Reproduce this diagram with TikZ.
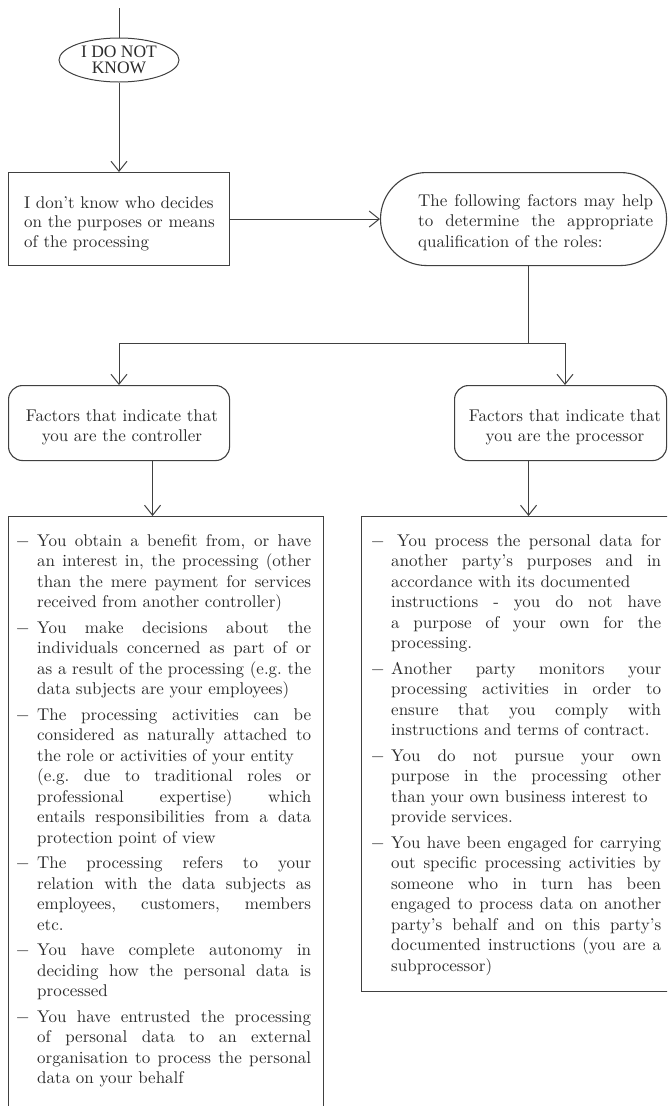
\documentclass[tikz,border=0pt]{standalone}
\usepackage{fontspec}
\setmainfont{lmroman10-regular.otf}
\newfontfamily\timesfont{Liberation Serif}
\usetikzlibrary{arrows.meta,shapes.geometric,calc}
\definecolor{lc}{HTML}{404040}
\definecolor{tc}{HTML}{2B2B2B}
\newcommand\bodyfont{\fontsize{17}{20.5}\selectfont\hyphenpenalty=10000\exhyphenpenalty=10000\tolerance=10000\emergencystretch=0pt\parskip=5pt\relax}
\newcommand\ditem[2]{\hangindent=#1\hangafter=1\noindent\makebox[#1][l]{\kern-1pt\char"2212}#2\par}
\begin{document}
\begin{tikzpicture}[x=1pt,y=-1pt,
  every node/.style={text=tc},
  conn/.style={draw=lc,line width=1pt},
  arr/.style={conn,-{Straight Barb[length=10pt,width=16pt]}},
  sqbox/.style={draw=lc,line width=1.1pt,rectangle,inner sep=0pt},
  rbox/.style={sqbox,rounded corners=14pt},
  txt/.style={inner sep=0pt,font=\bodyfont},
]
\useasboundingbox (0,0) rectangle (667,1106);
\clip (0,0) rectangle (667,1106);

% shapes
\node[draw=lc,line width=1pt,ellipse,minimum width=120pt,minimum height=44pt,inner sep=0pt,
      font=\timesfont\fontsize{17.5}{16.5}\selectfont,align=center] (ell) at (119,60) {I DO NOT\\KNOW};
\node[sqbox,minimum width=221pt,minimum height=93pt,anchor=north west] (b1) at (8,172) {};
\node[sqbox,rounded corners=46pt,minimum width=286pt,minimum height=93pt,anchor=north west] (stad) at (380,172) {};
\node[rbox,minimum width=221pt,minimum height=75pt,anchor=north west] (ctrl) at (8,385) {};
\node[rbox,minimum width=212pt,minimum height=75pt,anchor=north west] (proc) at (454,385) {};
\node[sqbox,minimum width=315pt,minimum height=620pt,anchor=north west] (clist) at (8,516) {};
\node[sqbox,minimum width=334pt,minimum height=475pt,anchor=north west] (plist) at (361,516) {};

% texts
\node[txt,text width=205pt,align=left,anchor=base west,font=\fontsize{17}{19.6}\selectfont] (t1) at (24,208)
  {I don't know who decides\\on the purposes or means\\of the processing};
\node[txt,text width=235pt,align=justify,anchor=base west] (t2) at (418,206)
  {The following factors may help\linebreak to determine the appropriate\linebreak qualification of the roles:};
\node[txt,text width=210pt,align=center,anchor=base] (t3) at (122,421)
  {Factors that indicate that\\you are the controller};
\node[txt,text width=210pt,align=center,anchor=base] (t4) at (565,421)
  {Factors that indicate that\\you are the processor};

\node[txt,text width=294pt,align=justify,anchor=base west] (t5) at (17,546) {%
\ditem{20pt}{You obtain a benefit from, or have\linebreak an interest in, the processing (other\linebreak than the mere payment for services\linebreak received from another controller)}%
\ditem{20pt}{You make decisions about the\linebreak individuals concerned as part of or\linebreak as a result of the processing (e.g.\ the\linebreak data subjects are your employees)}%
\ditem{20pt}{The processing activities can be\linebreak considered as naturally attached to\linebreak the role or activities of your entity\newline (e.g.\ due to traditional roles or\linebreak professional expertise) which\linebreak entails responsibilities from a data\linebreak protection point of view}%
\ditem{20pt}{The processing refers to your\linebreak relation with the data subjects as\linebreak employees, customers, members\linebreak etc.}%
\ditem{20pt}{You have complete autonomy in\linebreak deciding how the personal data is\linebreak processed}%
\ditem{20pt}{You have entrusted the processing\linebreak of personal data to an external\linebreak organisation to process the personal\linebreak data on your behalf}};

\node[txt,text width=289pt,align=justify,anchor=base west] (t6) at (372,546) {%
\ditem{19pt}{\hspace{6pt}You process the personal data for\linebreak another party's purposes and in\linebreak accordance with its documented\newline instructions - you do not have\linebreak a purpose of your own for the\linebreak processing.}%
\ditem{19pt}{Another party monitors your\linebreak processing activities in order to\linebreak ensure that you comply with\linebreak instructions and terms of contract.}%
\ditem{19pt}{You do not pursue your own\linebreak purpose in the processing other\linebreak than your own business interest to\newline provide services.}%
\ditem{19pt}{You have been engaged for carrying\linebreak out specific processing activities by\linebreak someone who in turn has been\linebreak engaged to process data on another\linebreak party's behalf and on this party's\linebreak documented instructions (you are a\linebreak subprocessor)}};

% connectors
\coordinate (top) at (119,8);
\coordinate (split) at (528,343);
\coordinate (lt) at (119,343);
\coordinate (rt) at (565,343);
\coordinate (ca) at ([xshift=-13.5pt]clist.north);
\draw[conn] (top) -- (ell.north);
\draw[arr] (ell.south) -- (ell.south |- b1.north);
\draw[arr] (b1.east) -- (stad.west);
\draw[conn] (stad.south -| split) -- (split);
\draw[arr] (split) -- (lt) -- (lt |- ctrl.north);
\draw[arr] (split) -- (rt) -- (rt |- proc.north);
\draw[arr] (ca |- ctrl.south) -- (ca);
\draw[arr] (plist.north |- proc.south) -- (plist.north);
\end{tikzpicture}
\end{document}
